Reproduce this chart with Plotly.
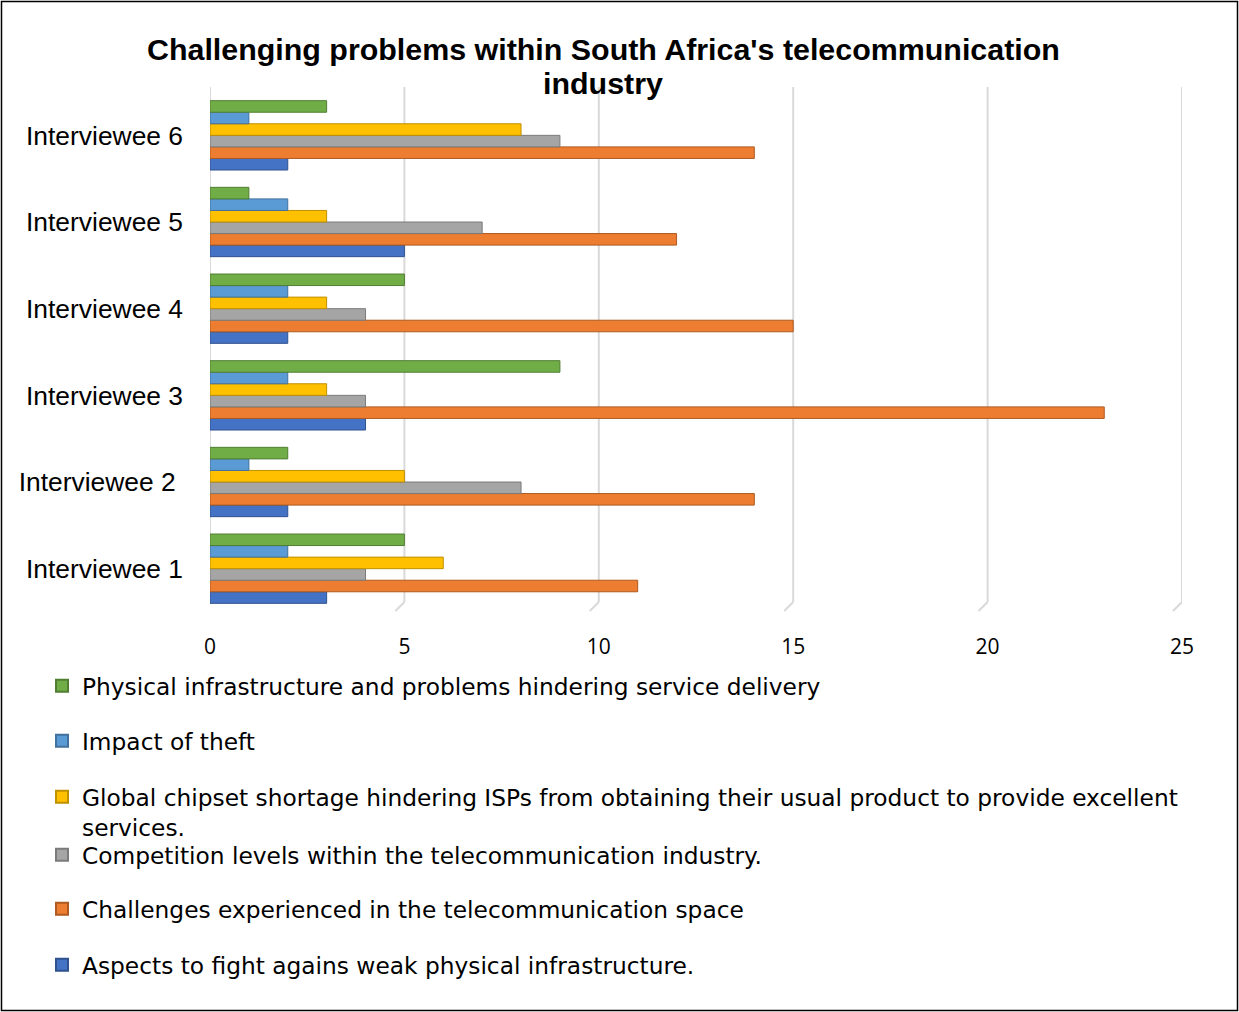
import plotly.graph_objects as go

categories = ["Interviewee 1", "Interviewee 2", "Interviewee 3",
              "Interviewee 4", "Interviewee 5", "Interviewee 6"]
category_labels = ["Interviewee 1", "Interviewee 2\u00a0", "Interviewee 3",
                   "Interviewee 4", "Interviewee 5", "Interviewee 6"]

series_names = [
    "Aspects to fight agains weak physical infrastructure.",
    "Challenges experienced in the telecommunication space",
    "Competition levels within the telecommunication industry.",
    "Global chipset shortage hindering ISPs from obtaining their usual product to provide excellent<br>services.",
    "Impact of theft",
    "Physical infrastructure and problems hindering service delivery",
]

aspects = [3, 2, 4, 2, 5, 2]
challenges = [11, 14, 23, 15, 12, 14]
competition = [4, 8, 4, 4, 7, 9]
chipset = [6, 5, 3, 3, 3, 8]
theft = [2, 1, 2, 2, 2, 1]
physical = [5, 2, 9, 5, 1, 3]

series_values = [aspects, challenges, competition, chipset, theft, physical]
colors = ["#4472C4", "#ED7D31", "#A5A5A5", "#FFC000", "#5B9BD5", "#70AD47"]
edge_colors = ["#2F528F", "#AE5A21", "#7B7B7B", "#BF9000", "#41719C", "#507E32"]

x_ticks = [0, 5, 10, 15, 20, 25]

title_lines = ["Challenging problems within South Africa's telecommunication", "industry"]

W, H = 1239, 1012
L, R = 210, 1182      # plot area pixels (x)
T, B = 92, 612        # plot area pixels (y)

def px_x(p):
    return (p - L) / (R - L)

def px_y(p):
    return (B - p) / (B - T)

fig = go.Figure()
legend_centres = {5: 686, 4: 741, 3: 797, 2: 855, 1: 909, 0: 965}
for i, (name, vals) in enumerate(zip(series_names, series_values)):
    lg = "legend" if i == 0 else f"legend{i+1}"
    fig.add_trace(go.Bar(
        y=categories, x=vals, orientation="h", name=name,
        marker=dict(color=colors[i], line=dict(color=edge_colors[i], width=1)),
        legend=lg,
    ))

legend_font = dict(family="DejaVu Sans", size=23.3, color="#000000")
for i in range(6):
    key = "legend" if i == 0 else f"legend{i+1}"
    c = legend_centres[i]
    fig.layout[key] = dict(
        x=px_x(42), xanchor="left",
        y=px_y(c - 22), yanchor="top",
        font=legend_font, bgcolor="rgba(0,0,0,0)",
        itemsizing="constant", valign="top",
        itemwidth=30, tracegroupgap=0,
    )

annotations = []
for j, (txt, yc) in enumerate(zip(title_lines, [49, 83])):
    annotations.append(dict(
        text=f"<b>{txt}</b>", xref="paper", yref="paper",
        x=px_x(603), y=px_y(yc), xanchor="center", yanchor="middle",
        showarrow=False,
        font=dict(family="Liberation Sans, Arial", size=30.4, color="#000000"),
    ))

# gridlines drawn with a small 3-D "foot", positioned through the x axis
grid_shapes = []
foot_dx = 9 / ((R - L) / 25)
for v in x_ticks:
    grid_shapes.append(dict(
        type="line", xref="x", yref="paper", x0=v, x1=v,
        y0=px_y(602), y1=px_y(87), line=dict(color="#D9D9D9", width=2),
        layer="below",
    ))
    grid_shapes.append(dict(
        type="line", xref="x", yref="paper", x0=v, x1=v - foot_dx,
        y0=px_y(602), y1=px_y(611), line=dict(color="#D9D9D9", width=2),
        layer="below",
    ))

border = dict(
    type="rect", xref="paper", yref="paper",
    x0=px_x(1.5), x1=px_x(1237.5), y0=px_y(1010.5), y1=px_y(1.5),
    line=dict(color="#000000", width=1.5), fillcolor="rgba(0,0,0,0)",
    layer="above",
)

fig.update_layout(
    width=W, height=H,
    barmode="group", bargap=0.2, bargroupgap=0,
    paper_bgcolor="white", plot_bgcolor="white",
    margin=dict(l=L, r=W - R, t=T, b=H - B, pad=0),
    showlegend=True,
    annotations=annotations,
    xaxis=dict(
        range=[0, 25], tickvals=x_ticks, ticktext=[str(v) for v in x_ticks],
        showgrid=False, zeroline=False, showline=False, ticks="",
        ticklabelstandoff=20,
        tickfont=dict(family="Open Sans, Lato", size=21, color="#000000"),
        fixedrange=True,
    ),
    yaxis=dict(
        categoryorder="array", categoryarray=categories,
        tickvals=categories, ticktext=category_labels,
        range=[-0.5, 5.5], showgrid=False, zeroline=False, showline=False,
        ticks="", ticklabelstandoff=26,
        tickfont=dict(family="Liberation Sans, Arial", size=26.4, color="#000000"),
        fixedrange=True,
    ),
    shapes=grid_shapes + [border],
)

fig.write_html("out.html", config={"displayModeBar": False},
               post_script="document.body.style.margin='0';")
